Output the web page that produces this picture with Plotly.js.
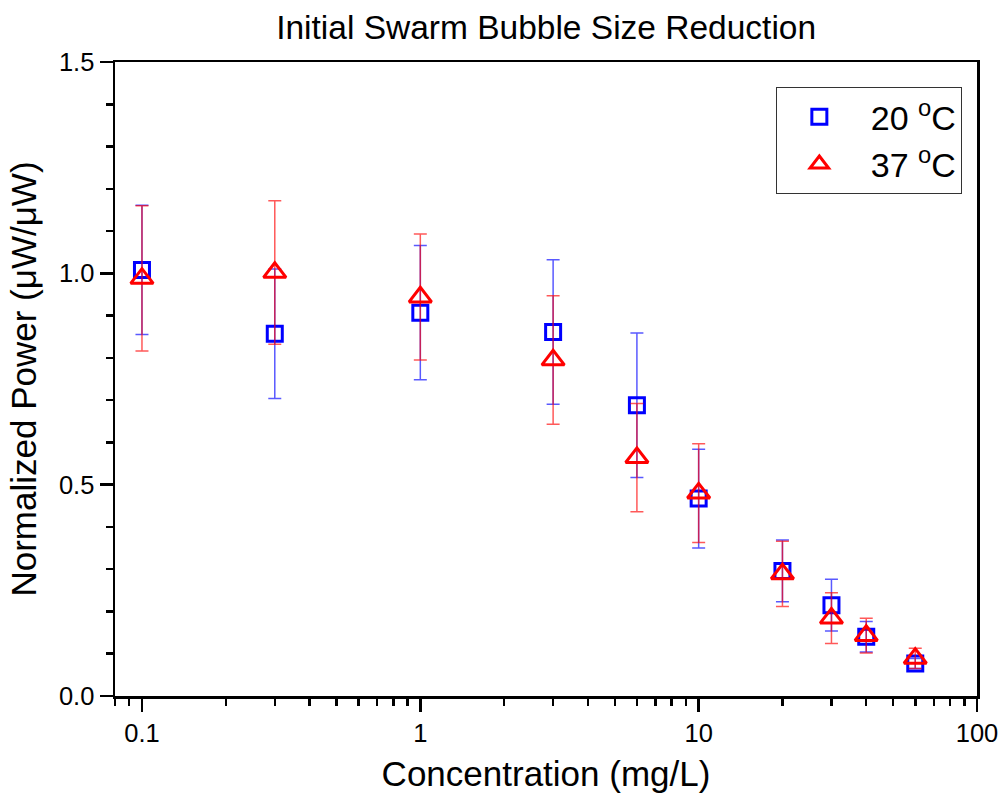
<!DOCTYPE html>
<html>
<head>
<meta charset="utf-8">
<script src="https://cdn.plot.ly/plotly-3.0.1.min.js"></script>
<style>
  html, body { margin: 0; padding: 0; background: #fff; }
  #chart { width: 1003px; height: 800px; }
</style>
</head>
<body>
<div id="chart"></div>
<script>
// Surfactant concentration (mg/L)
const concentration = [0.1, 0.3, 1, 3, 6, 10, 20, 30, 40, 60];

// Normalized power and standard deviation at 20 °C
const power20 = [1.008, 0.857, 0.907, 0.861, 0.688, 0.467, 0.296, 0.215, 0.140, 0.077];
const err20   = [0.153, 0.153, 0.159, 0.171, 0.171, 0.117, 0.073, 0.061, 0.036, 0.012];

// Normalized power and standard deviation at 37 °C
const power37 = [0.988, 1.002, 0.944, 0.795, 0.564, 0.480, 0.289, 0.184, 0.143, 0.089];
const err37   = [0.172, 0.170, 0.149, 0.152, 0.128, 0.117, 0.077, 0.060, 0.041, 0.024];

const seriesNames = ['\u00a020 <sup>o</sup>C', '\u00a037 <sup>o</sup>C'];

const FONT = 'Liberation Sans, Arial, sans-serif';

const traces = [
  {
    x: concentration, y: power20, name: seriesNames[0],
    type: 'scatter', mode: 'markers', legendgroup: 'a',
    marker: { symbol: 'square-open', size: 15, color: '#0000ff', line: { width: 3, color: '#0000ff' } },
    error_y: { type: 'data', array: err20, visible: true, color: 'rgba(0,0,255,0.65)', thickness: 1.5, width: 6.5 }
  },
  {
    x: concentration, y: power37, name: seriesNames[1],
    type: 'scatter', mode: 'markers', legendgroup: 'b',
    marker: { symbol: 'triangle-up-open', size: 19.5, color: '#ff0000', line: { width: 3, color: '#ff0000' } },
    error_y: { type: 'data', array: err37, visible: true, color: 'rgba(255,0,0,0.65)', thickness: 1.5, width: 6.5 }
  }
];

const layout = {
  width: 1003, height: 800,
  margin: { l: 115, r: 26, t: 62, b: 104 },
  paper_bgcolor: '#ffffff', plot_bgcolor: '#ffffff',
  font: { family: FONT, color: '#000000' },
  title: {
    text: 'Initial Swarm Bubble Size Reduction',
    font: { family: FONT, size: 33.5, color: '#000000' },
    x: 0.5445, xanchor: 'center', y: 0.966, yanchor: 'middle'
  },
  xaxis: {
    type: 'log',
    range: [Math.log10(0.08), 2],
    tickvals: [0.1, 1, 10, 100],
    ticktext: ['0.1', '1', '10', '100'],
    ticks: 'outside', ticklen: 13, tickwidth: 2.5, tickcolor: '#000',
    minor: { tickvals: [0.08, 0.09, 0.2, 0.3, 0.4, 0.5, 0.6, 0.7, 0.8, 0.9, 2, 3, 4, 5, 6, 7, 8, 9, 20, 30, 40, 50, 60, 70, 80, 90],
             ticks: 'outside', ticklen: 7, tickwidth: 2.5, tickcolor: '#000', showgrid: false },
    showline: true, linewidth: 2.5, linecolor: '#000', mirror: true,
    showgrid: false, zeroline: false,
    tickfont: { family: FONT, size: 25.5, color: '#000' },
    title: { text: 'Concentration (mg/L)', font: { family: FONT, size: 35, color: '#000' }, standoff: 16 }
  },
  yaxis: {
    range: [0, 1.5],
    tickvals: [0, 0.5, 1.0, 1.5],
    ticktext: ['0.0', '0.5', '1.0', '1.5'],
    ticks: 'outside', ticklen: 13, tickwidth: 2.5, tickcolor: '#000',
    minor: { dtick: 0.1, ticks: 'outside', ticklen: 7, tickwidth: 2.5, tickcolor: '#000', showgrid: false },
    showline: true, linewidth: 2.5, linecolor: '#000', mirror: true,
    showgrid: false, zeroline: false,
    tickfont: { family: FONT, size: 25.5, color: '#000' },
    title: { text: 'Normalized Power (\u03bcW/\u03bcW)', font: { family: FONT, size: 35, color: '#000' }, standoff: 12 }
  },
  showlegend: true,
  legend: {
    x: 0.767, xanchor: 'left', y: 0.9606, yanchor: 'top',
    bgcolor: '#ffffff', bordercolor: '#333333', borderwidth: 1.2,
    font: { family: FONT, size: 34, color: '#000' },
    tracegroupgap: 0, itemwidth: 74
  }
};

Plotly.newPlot('chart', traces, layout, { displayModeBar: false, staticPlot: true });
</script>
</body>
</html>
